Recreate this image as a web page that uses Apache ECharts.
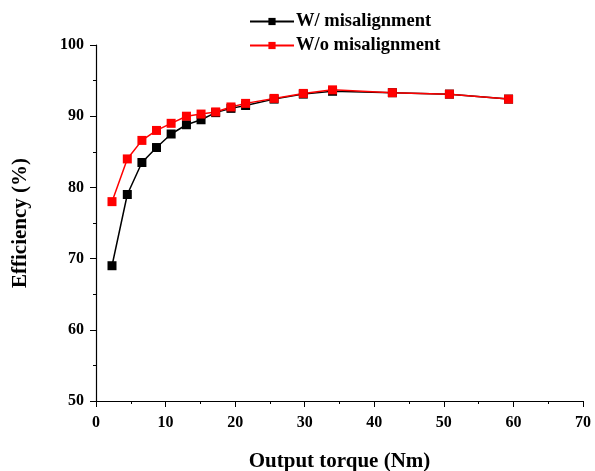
<!DOCTYPE html>
<html>
<head>
<meta charset="utf-8">
<script src="https://cdn.jsdelivr.net/npm/echarts@6/dist/echarts.min.js"></script>
<style>
  html, body { margin: 0; padding: 0; background: #fff; }
  #chart { width: 595px; height: 471px; }
</style>
</head>
<body>
<div id="chart"></div>
<script>
// output torque (Nm)
var torque = [2.3, 4.5, 6.6, 8.7, 10.8, 13.0, 15.1, 17.2, 19.4, 21.5, 25.6, 29.8, 34.0, 42.6, 50.8, 59.3];
// efficiency (%)
var withMis = [69.0, 79.0, 83.5, 85.6, 87.5, 88.8, 89.5, 90.5, 91.1, 91.5, 92.4, 93.1, 93.5, 93.3, 93.1, 92.4];
var withoutMis = [78.0, 84.0, 86.6, 88.0, 89.0, 90.0, 90.3, 90.6, 91.3, 91.8, 92.5, 93.2, 93.7, 93.3, 93.1, 92.4];
var seriesNames = ['W/ misalignment', 'W/o misalignment'];

function pairs(xs, ys) {
    return xs.map(function (x, i) { return [x, ys[i]]; });
}

var font = 'Liberation Serif';
var axisLine = { show: true, lineStyle: { color: '#000', width: 1.2 } };

var option = {
    animation: false,
    backgroundColor: '#fff',
    grid: { left: 96, right: 12, top: 45, bottom: 70, outerBoundsMode: 'none' },
    legend: {
        orient: 'vertical',
        left: 244,
        top: 7,
        itemGap: 5,
        itemWidth: 44,
        itemHeight: 9,
        textStyle: { fontFamily: font, fontWeight: 'bold', fontSize: 18.5, color: '#000', padding: [0, 0, 0, -3] },
        data: seriesNames
    },
    xAxis: {
        type: 'value',
        min: 0, max: 70, interval: 10,
        name: 'Output torque (Nm)',
        nameLocation: 'middle',
        nameGap: 50,
        nameTextStyle: { fontFamily: font, fontWeight: 'bold', fontSize: 21, color: '#000' },
        axisLine: axisLine,
        axisTick: { show: true, length: 6, lineStyle: { color: '#000' } },
        minorTick: { show: true, splitNumber: 2, length: 3, lineStyle: { color: '#000' } },
        axisLabel: { fontFamily: font, fontWeight: 'bold', fontSize: 16, color: '#000', margin: 14 },
        splitLine: { show: false }
    },
    yAxis: {
        type: 'value',
        min: 50, max: 100, interval: 10,
        name: 'Efficiency (%)',
        nameLocation: 'middle',
        nameGap: 65,
        nameTextStyle: { fontFamily: font, fontWeight: 'bold', fontSize: 21, color: '#000' },
        axisLine: axisLine,
        axisTick: { show: true, length: 6, lineStyle: { color: '#000' } },
        minorTick: { show: true, splitNumber: 2, length: 3, lineStyle: { color: '#000' } },
        axisLabel: { fontFamily: font, fontWeight: 'bold', fontSize: 16, color: '#000', margin: 12 },
        splitLine: { show: false }
    },
    series: [
        {
            name: seriesNames[0],
            type: 'line',
            symbol: 'rect',
            symbolSize: 9,
            color: '#000',
            lineStyle: { width: 1.5, color: '#000' },
            data: pairs(torque, withMis)
        },
        {
            name: seriesNames[1],
            type: 'line',
            symbol: 'rect',
            symbolSize: 9,
            color: '#ff0000',
            lineStyle: { width: 1.5, color: '#ff0000' },
            data: pairs(torque, withoutMis)
        }
    ]
};

var myChart = echarts.init(document.getElementById('chart'), null, { renderer: 'canvas' });
myChart.setOption(option);
</script>
</body>
</html>
